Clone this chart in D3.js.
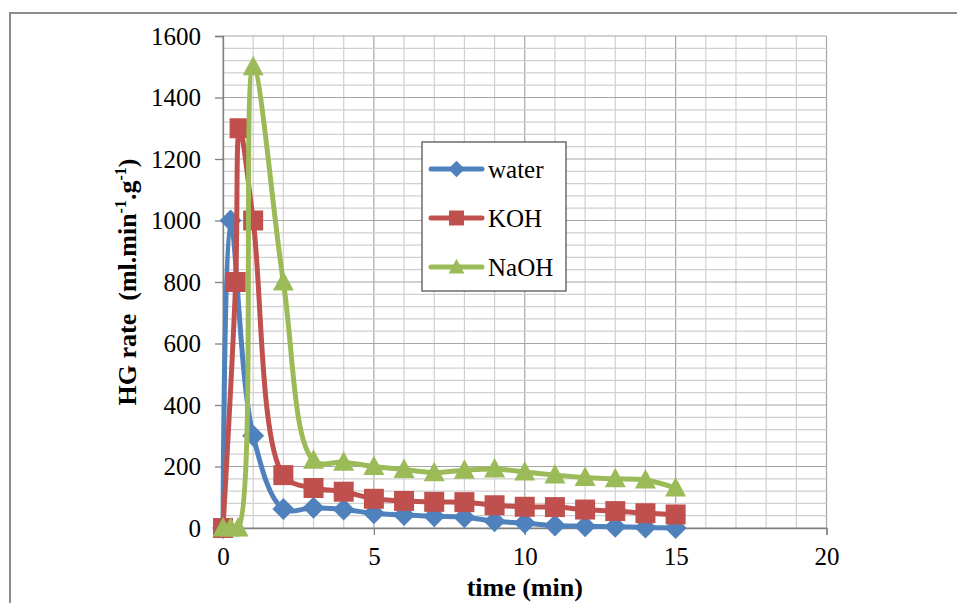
<!DOCTYPE html>
<html>
<head>
<meta charset="utf-8">
<script src="https://cdn.jsdelivr.net/npm/d3@7"></script>
<style>
  body { margin: 0; background: #fff; }
  text { font-family: "Liberation Serif", "Times New Roman", serif; fill: #000; }
</style>
</head>
<body>
<div id="chart"></div>
<script>
// data
var seriesNames = ["water", "KOH", "NaOH"];
var waterTime = [0, 0.25, 1, 2, 3, 4, 5, 6, 7, 8, 9, 10, 11, 12, 13, 14, 15];
var waterRate = [0, 1000, 300, 62, 66, 60, 48, 42, 38, 35, 22, 16, 8, 6, 4, 2, 0];
var kohTime = [0, 0.42, 0.55, 1, 2, 3, 4, 5, 6, 7, 8, 9, 10, 11, 12, 13, 14, 15];
var kohRate = [0, 800, 1300, 1000, 172, 130, 118, 95, 88, 85, 84, 74, 69, 68, 60, 55, 48, 44];
var naohTime = [0, 0.25, 0.5, 1, 2, 3, 4, 5, 6, 7, 8, 9, 10, 11, 12, 13, 14, 15];
var naohRate = [0, 0, 0, 1500, 800, 220, 214, 200, 190, 180, 188, 192, 182, 172, 164, 160, 156, 130];
var xTicks = [0, 5, 10, 15, 20];
var yTicks = [0, 200, 400, 600, 800, 1000, 1200, 1400, 1600];

var colors = { water: "#4F81BD", KOH: "#C0504D", NaOH: "#9BBB59" };
var shapes = { water: "diamond", KOH: "square", NaOH: "triangle" };

var width = 957, height = 603;
var margin = { top: 36, right: 130.5, bottom: 75, left: 223 };

var svg = d3.select("#chart").append("svg")
    .attr("width", width)
    .attr("height", height);

svg.append("rect").attr("width", width).attr("height", height).attr("fill", "#fff");

// outer chart frame
svg.append("rect")
    .attr("x", 10).attr("y", 13)
    .attr("width", 960).attr("height", 620)
    .attr("fill", "none").attr("stroke", "#8c8c8c").attr("stroke-width", 2);

var x = d3.scaleLinear().domain([0, 20]).range([margin.left, width - margin.right]);
var y = d3.scaleLinear().domain([0, 1600]).range([height - margin.bottom, margin.top]);

var grid = svg.append("g");
grid.selectAll(".vgrid").data(d3.range(0, 21, 1)).enter().append("line")
    .attr("x1", d => x(d)).attr("x2", d => x(d))
    .attr("y1", y(0)).attr("y2", y(1600))
    .attr("stroke", d => d % 5 === 0 ? "#a6a6a6" : "#d0d0d0").attr("stroke-width", 1.2);
grid.selectAll(".hgrid").data(d3.range(0, 1601, 40)).enter().append("line")
    .attr("x1", x(0)).attr("x2", x(20))
    .attr("y1", d => y(d)).attr("y2", d => y(d))
    .attr("stroke", d => d % 200 === 0 ? "#a6a6a6" : "#d0d0d0").attr("stroke-width", 1.2);

// axes
var yAxis = svg.append("g")
    .attr("transform", "translate(" + x(0) + ",0)")
    .call(d3.axisLeft(y).tickValues(yTicks).tickFormat(d3.format("d")).tickSize(8).tickPadding(14));
var xAxis = svg.append("g")
    .attr("transform", "translate(0," + y(0) + ")")
    .call(d3.axisBottom(x).tickValues(xTicks).tickFormat(d3.format("d")).tickSize(7).tickPadding(12));
[xAxis, yAxis].forEach(function (a) {
    a.select(".domain").attr("stroke", "#808080").attr("stroke-width", 1.3);
    a.selectAll(".tick line").attr("stroke", "#808080").attr("stroke-width", 1.3);
    a.selectAll(".tick text").style("font-family", "Liberation Serif").style("font-size", "25px").attr("fill", "#000");
});

// axis titles
svg.append("text")
    .attr("x", (x(0) + x(20)) / 2).attr("y", 596)
    .attr("text-anchor", "middle")
    .style("font-size", "26px").style("font-weight", "bold")
    .text("time (min)");

var yt = svg.append("text")
    .attr("transform", "translate(136," + ((y(0) + y(1600)) / 2) + ") rotate(-90)")
    .attr("text-anchor", "middle")
    .style("font-size", "26px").style("font-weight", "bold");
yt.append("tspan").text("HG rate\u00a0\u00a0(ml.min");
yt.append("tspan").attr("dy", -10).style("font-size", "16px").text("-1");
yt.append("tspan").attr("dy", 10).text(".g");
yt.append("tspan").attr("dy", -10).style("font-size", "16px").text("-1");
yt.append("tspan").attr("dy", 10).text(")");

function markerPath(shape) {
    if (shape === "diamond") return "M0,-11L11,0L0,11L-11,0Z";
    if (shape === "square") return "M-10,-10H10V10H-10Z";
    return "M0,-11L10.5,8.5H-10.5Z";
}

var series = [
    { name: "water", values: waterTime.map((t, i) => [t, waterRate[i]]) },
    { name: "KOH", values: kohTime.map((t, i) => [t, kohRate[i]]) },
    { name: "NaOH", values: naohTime.map((t, i) => [t, naohRate[i]]) }
];

var line = d3.line()
    .x(d => x(d[0])).y(d => y(d[1]))
    .curve(d3.curveCatmullRom.alpha(0.5));

series.forEach(function (s) {
    var g = svg.append("g");
    g.append("path")
        .attr("d", line(s.values))
        .attr("fill", "none")
        .attr("stroke", colors[s.name])
        .attr("stroke-width", 5)
        .attr("stroke-linejoin", "round");
    g.selectAll(".mk").data(s.values).enter().append("path")
        .attr("transform", d => "translate(" + x(d[0]) + "," + y(d[1]) + ")")
        .attr("d", markerPath(shapes[s.name]))
        .attr("fill", colors[s.name]);
});

// legend
var lg = svg.append("g");
lg.append("rect")
    .attr("x", 422).attr("y", 142).attr("width", 144).attr("height", 149)
    .attr("fill", "#fff").attr("stroke", "#555").attr("stroke-width", 1.3);
var legY = d3.scalePoint().domain(seriesNames).range([169, 267]);
seriesNames.forEach(function (n) {
    var cy = legY(n);
    lg.append("line")
        .attr("x1", 431).attr("x2", 482).attr("y1", cy).attr("y2", cy)
        .attr("stroke", colors[n]).attr("stroke-width", 5).attr("stroke-linecap", "round");
    lg.append("path")
        .attr("transform", "translate(456.5," + cy + ") scale(0.75)")
        .attr("d", markerPath(shapes[n]))
        .attr("fill", colors[n]);
    lg.append("text")
        .attr("x", 488).attr("y", cy + 9)
        .style("font-size", "25px")
        .text(n);
});
</script>
</body>
</html>
